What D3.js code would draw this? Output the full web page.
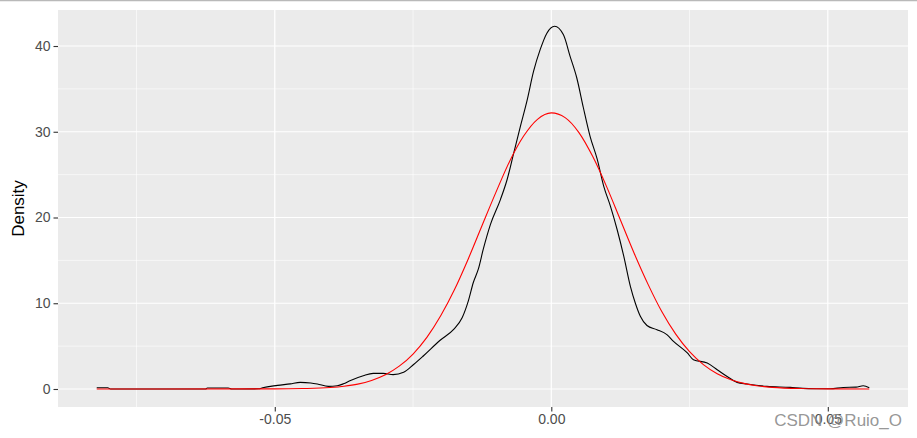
<!DOCTYPE html>
<html>
<head>
<meta charset="utf-8">
<script src="https://cdn.jsdelivr.net/npm/d3@7"></script>
<style>
  html, body { margin: 0; padding: 0; background: #fff; }
  svg { display: block; }
  text { font-family: "Liberation Sans", Arial, sans-serif; }
</style>
</head>
<body>
<svg id="chart" width="917" height="438"></svg>
<script>
// ---- data ----
const xTicks = [-0.05, 0.00, 0.05];
const xTickLabels = ["-0.05", "0.00", "0.05"];
const xMinor = [-0.075, -0.025, 0.025];
const yTicks = [0, 10, 20, 30, 40];
const yTickLabels = ["0", "10", "20", "30", "40"];
const yMinor = [5, 15, 25, 35];

// empirical kernel density (black)
const densityX = [-0.0822, -0.0802, -0.0797, -0.0625, -0.0622, -0.0584, -0.0578, -0.0529, -0.0522, -0.0495,
  -0.0472, -0.0454, -0.0435, -0.0423, -0.0403, -0.0387, -0.0376, -0.0363, -0.0340, -0.0322,
  -0.0304, -0.0286, -0.0267, -0.0249, -0.0231, -0.0201, -0.0177, -0.0161, -0.0150, -0.0141,
  -0.0132, -0.0123, -0.0110, -0.0092, -0.0080, -0.0068, -0.0056, -0.0044, -0.0032, -0.0020,
  -0.0008, 0.0006, 0.0022, 0.0034, 0.0046, 0.0058, 0.0070, 0.0083, 0.0095, 0.0107,
  0.0119, 0.0131, 0.0143, 0.0152, 0.0161, 0.0173, 0.0191, 0.0209, 0.0221, 0.0246,
  0.0257, 0.0282, 0.0300, 0.0318, 0.0336, 0.0354, 0.0390, 0.0432, 0.0455, 0.0481,
  0.0504, 0.0528, 0.0551, 0.0564, 0.0575];
const densityY = [0.15, 0.15, 0.0, 0.0, 0.12, 0.12, 0.0, 0.02, 0.15, 0.42,
  0.60, 0.77, 0.70, 0.58, 0.30, 0.38, 0.60, 1.00, 1.55, 1.82,
  1.82, 1.67, 1.95, 2.86, 3.88, 5.68, 6.93, 8.33, 10.27, 12.42,
  13.97, 16.30, 19.20, 22.09, 24.40, 27.50, 30.60, 33.60, 37.06, 39.60,
  41.50, 42.30, 41.30, 38.80, 36.30, 32.80, 29.50, 26.80, 23.60, 21.30,
  18.60, 15.50, 11.97, 10.00, 8.48, 7.40, 6.92, 6.34, 5.56, 4.20,
  3.42, 3.03, 2.25, 1.46, 0.77, 0.58, 0.30, 0.19, 0.07, 0.03,
  0.02, 0.18, 0.22, 0.38, 0.15];

// fitted normal density (red)
const normalX = [-0.0822, -0.0500, -0.0450, -0.0400, -0.0375, -0.0350, -0.0325, -0.0300, -0.0275, -0.0250,
  -0.0225, -0.0200, -0.0175, -0.0150, -0.0125, -0.0100, -0.0075, -0.0050, -0.0025, 0.0000,
  0.0025, 0.0050, 0.0075, 0.0100, 0.0125, 0.0150, 0.0175, 0.0200, 0.0225, 0.0250,
  0.0275, 0.0300, 0.0325, 0.0350, 0.0375, 0.0400, 0.0450, 0.0500, 0.0575];
const normalY = [0.00, 0.01, 0.05, 0.17, 0.32, 0.57, 1.00, 1.66, 2.66, 4.08,
  6.02, 8.54, 11.60, 15.20, 19.10, 22.96, 26.60, 29.50, 31.45, 32.20,
  31.65, 29.90, 27.10, 23.60, 19.70, 15.80, 12.20, 9.00, 6.40, 4.36,
  2.85, 1.79, 1.08, 0.63, 0.35, 0.19, 0.05, 0.01, 0.00];

const yTitle = "Density";
const watermark = "CSDN @Ruio_O";

// ---- drawing ----
const svg = d3.select("#chart");
const W = 917, H = 438;
const panel = { left: 58, right: 908, top: 10, bottom: 407 };

const x = d3.scaleLinear().domain([-0.0892, 0.0645]).range([panel.left, panel.right]);
const y = d3.scaleLinear().domain([-2.1, 44.2]).range([panel.bottom, panel.top]);

// top border line in screenshot
svg.append("line").attr("x1", 0).attr("x2", W).attr("y1", 0.5).attr("y2", 0.5)
  .attr("stroke", "#b9b9b9").attr("stroke-width", 1.5);

// panel background
svg.append("rect")
  .attr("x", panel.left).attr("y", panel.top)
  .attr("width", panel.right - panel.left).attr("height", panel.bottom - panel.top)
  .attr("fill", "#EBEBEB");

const grid = svg.append("g");
// minor grid
grid.selectAll(".yminor").data(yMinor).enter().append("line")
  .attr("x1", panel.left).attr("x2", panel.right)
  .attr("y1", d => y(d)).attr("y2", d => y(d))
  .attr("stroke", "#fff").attr("stroke-width", 0.6);
grid.selectAll(".xminor").data(xMinor).enter().append("line")
  .attr("y1", panel.top).attr("y2", panel.bottom)
  .attr("x1", d => x(d)).attr("x2", d => x(d))
  .attr("stroke", "#fff").attr("stroke-width", 0.6);
// major grid
grid.selectAll(".ymajor").data(yTicks).enter().append("line")
  .attr("x1", panel.left).attr("x2", panel.right)
  .attr("y1", d => y(d)).attr("y2", d => y(d))
  .attr("stroke", "#fff").attr("stroke-width", 1.2);
grid.selectAll(".xmajor").data(xTicks).enter().append("line")
  .attr("y1", panel.top).attr("y2", panel.bottom)
  .attr("x1", d => x(d)).attr("x2", d => x(d))
  .attr("stroke", "#fff").attr("stroke-width", 1.2);

// curves
const line = d3.line().curve(d3.curveMonotoneX).x(d => x(d[0])).y(d => y(d[1]));
const densityData = densityX.map((v, i) => [v, densityY[i]]);
const normalData = normalX.map((v, i) => [v, normalY[i]]);

svg.append("path").datum(densityData).attr("d", line)
  .attr("fill", "none").attr("stroke", "#000").attr("stroke-width", 1.1);
svg.append("path").datum(normalData).attr("d", line)
  .attr("fill", "none").attr("stroke", "#ff0000").attr("stroke-width", 1.1);

// axes
const xAxis = d3.axisBottom(x).tickValues(xTicks)
  .tickFormat((d, i) => xTickLabels[i]).tickSize(4.5).tickPadding(3);
const gx = svg.append("g").attr("transform", `translate(0,${panel.bottom})`).call(xAxis);
gx.select(".domain").remove();
gx.selectAll(".tick line").attr("stroke", "#333").attr("stroke-width", 1.1);
gx.selectAll(".tick text").attr("fill", "#4d4d4d").style("font-size", "14px")
  .style("font-family", "'Liberation Sans', Arial, sans-serif");

const yAxis = d3.axisLeft(y).tickValues(yTicks)
  .tickFormat((d, i) => yTickLabels[i]).tickSize(4.5).tickPadding(3);
const gy = svg.append("g").attr("transform", `translate(${panel.left},0)`).call(yAxis);
gy.select(".domain").remove();
gy.selectAll(".tick line").attr("stroke", "#333").attr("stroke-width", 1.1);
gy.selectAll(".tick text").attr("fill", "#4d4d4d").style("font-size", "14px")
  .style("font-family", "'Liberation Sans', Arial, sans-serif");

// y title
svg.append("text")
  .attr("transform", `translate(24,${(panel.top + panel.bottom) / 2}) rotate(-90)`)
  .attr("text-anchor", "middle")
  .attr("fill", "#000")
  .style("font-size", "17px")
  .text(yTitle);

// watermark
svg.append("text")
  .attr("x", 902).attr("y", 426)
  .attr("text-anchor", "end")
  .attr("fill", "#8a8a8a")
  .attr("fill-opacity", 0.9)
  .style("font-size", "17px")
  .text(watermark);
</script>
</body>
</html>
